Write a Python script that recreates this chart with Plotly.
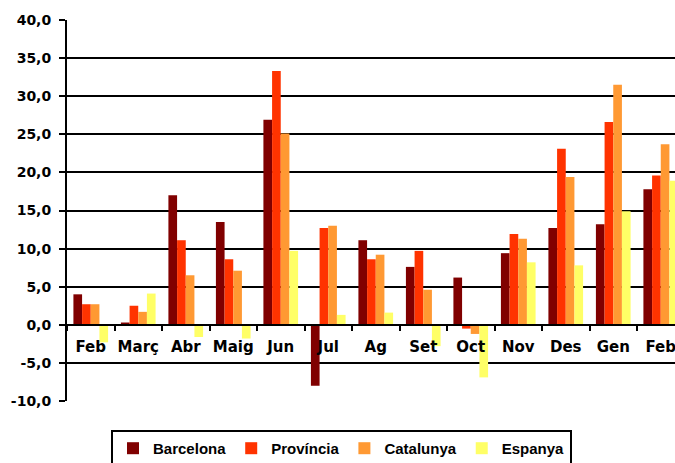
import plotly.graph_objects as go

months = ["Feb", "Març", "Abr", "Maig", "Jun", "Jul", "Ag", "Set", "Oct", "Nov", "Des", "Gen", "Feb"]
barcelona = [4.0, 0.3, 17.0, 13.5, 26.9, -8.0, 11.1, 7.6, 6.2, 9.4, 12.7, 13.2, 17.8]
provincia = [2.7, 2.5, 11.1, 8.6, 33.3, 12.7, 8.6, 9.7, -0.5, 11.9, 23.1, 26.6, 19.6]
catalunya = [2.7, 1.7, 6.5, 7.1, 25.1, 13.0, 9.2, 4.6, -1.2, 11.3, 19.4, 31.5, 23.7]
espanya = [-2.3, 4.1, -1.6, -1.8, 9.7, 1.3, 1.6, -2.8, -6.9, 8.2, 7.8, 14.9, 18.9]

series = [
    ("Barcelona", barcelona, "#800000"),
    ("Província", provincia, "#FF3300"),
    ("Catalunya", catalunya, "#FF9933"),
    ("Espanya", espanya, "#FFFF66"),
]

y_ticks = [-10, -5, 0, 5, 10, 15, 20, 25, 30, 35, 40]
y_labels = [f"{v:.1f}".replace(".", ",") for v in y_ticks]
y_min, y_max = -10, 40

x_idx = list(range(len(months)))

fig = go.Figure()
for name, vals, col in series:
    fig.add_trace(go.Bar(x=x_idx, y=vals, name=name, marker=dict(color=col, line=dict(width=0))))

fig.update_layout(
    width=675, height=463,
    margin=dict(l=67, r=0, t=20, b=62, autoexpand=False),
    paper_bgcolor="white", plot_bgcolor="white",
    barmode="group", bargap=0.27, bargroupgap=0,
    showlegend=True,
    legend=dict(
        orientation="h", x=0.0724, xanchor="left", y=-0.076, yanchor="top",
        bordercolor="black", borderwidth=2,
        font=dict(family="Liberation Sans", size=15, color="black", weight="bold"),
        traceorder="normal",
    ),
    xaxis=dict(
        range=[-0.5, 12.3],
        tickvals=x_idx, ticktext=months,
        anchor="free", position=(0 - y_min) / (y_max - y_min),
        automargin=False,
        ticklabeloverflow="allow",
        showline=True, linecolor="black", linewidth=2,
        ticks="", showgrid=False, zeroline=False,
        minor=dict(ticks="outside", tick0=-0.5, dtick=1, ticklen=5, tickcolor="black", tickwidth=2, showgrid=False),
        tickfont=dict(family="DejaVu Sans", size=15, color="black", weight="bold"),
        ticklabelstandoff=8,
    ),
    yaxis=dict(
        range=[y_min, y_max],
        automargin=False,
        tickvals=y_ticks, ticktext=y_labels,
        showgrid=True, gridcolor="black", gridwidth=2,
        zeroline=False,
        showline=True, linecolor="black", linewidth=2,
        ticks="outside", ticklen=6, tickcolor="black", tickwidth=2,
        tickfont=dict(family="DejaVu Sans", size=14, color="black", weight="bold"),
        ticklabelstandoff=5,
    ),
)

fig.write_html(
    "out.html",
    config={"displayModeBar": False},
    post_script="document.body.style.margin='0';document.body.style.overflow='hidden';",
)
